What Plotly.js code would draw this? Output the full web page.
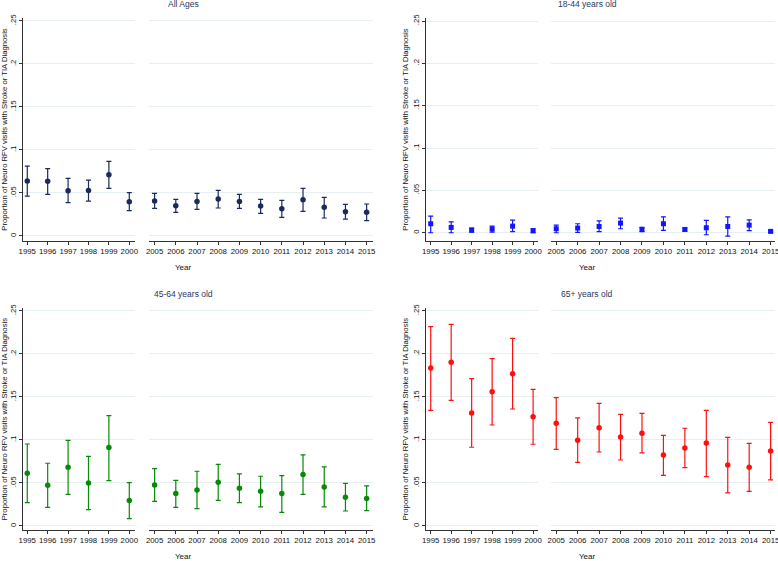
<!DOCTYPE html>
<html>
<head>
<meta charset="utf-8">
<script src="https://cdn.plot.ly/plotly-3.0.1.min.js"></script>
<style>
  html, body { margin: 0; padding: 0; background: #fff; }
  #graph { width: 778px; height: 561px; }
</style>
</head>
<body>
<div id="graph"></div>
<script>
// Survey years (two blocks with a gap)
var years = [1995, 1996, 1997, 1998, 1999, 2000, 2005, 2006, 2007, 2008, 2009, 2010, 2011, 2012, 2013, 2014, 2015];

// All ages
var allEst = [0.0639, 0.0635, 0.0526, 0.0530, 0.0712, 0.0399, 0.0406, 0.0352, 0.0402, 0.0430, 0.0402, 0.0348, 0.0317, 0.0422, 0.0333, 0.0283, 0.0275];
var allLo  = [0.0464, 0.0484, 0.0387, 0.0406, 0.0553, 0.0294, 0.0321, 0.0275, 0.0310, 0.0325, 0.0321, 0.0263, 0.0217, 0.0286, 0.0209, 0.0197, 0.0178];
var allHi  = [0.0813, 0.0782, 0.0670, 0.0650, 0.0867, 0.0503, 0.0495, 0.0426, 0.0495, 0.0530, 0.0484, 0.0426, 0.0414, 0.0553, 0.0449, 0.0368, 0.0372];

// 18-44 years old
var youngEst = [0.0106, 0.0063, 0.0031, 0.0043, 0.0078, 0.0024, 0.0047, 0.0055, 0.0074, 0.0114, 0.0039, 0.0106, 0.0039, 0.0059, 0.0074, 0.0090, 0.0016];
var youngLo  = [0.0000, 0.0000, 0.0008, 0.0008, 0.0012, 0.0000, 0.0000, 0.0004, 0.0012, 0.0047, 0.0012, 0.0027, 0.0020, -0.0024, -0.0039, 0.0024, 0.0004];
var youngHi  = [0.0196, 0.0129, 0.0055, 0.0078, 0.0149, 0.0047, 0.0090, 0.0106, 0.0141, 0.0172, 0.0063, 0.0188, 0.0055, 0.0145, 0.0188, 0.0153, 0.0024];

// 45-64 years old
var midEst = [0.0612, 0.0473, 0.0682, 0.0500, 0.0911, 0.0295, 0.0477, 0.0376, 0.0419, 0.0508, 0.0438, 0.0403, 0.0376, 0.0597, 0.0453, 0.0333, 0.0318];
var midLo  = [0.0271, 0.0217, 0.0368, 0.0190, 0.0527, 0.0085, 0.0287, 0.0217, 0.0202, 0.0298, 0.0271, 0.0221, 0.0159, 0.0368, 0.0221, 0.0174, 0.0178];
var midHi  = [0.0953, 0.0729, 0.0996, 0.0810, 0.1283, 0.0504, 0.0667, 0.0531, 0.0636, 0.0717, 0.0605, 0.0578, 0.0585, 0.0826, 0.0686, 0.0496, 0.0465];

// 65+ years old
var oldEst = [0.1837, 0.1903, 0.1314, 0.1562, 0.1771, 0.1271, 0.1194, 0.0996, 0.1143, 0.1035, 0.1078, 0.0826, 0.0907, 0.0965, 0.0709, 0.0682, 0.0872];
var oldLo  = [0.1345, 0.1461, 0.0915, 0.1174, 0.1360, 0.0950, 0.0891, 0.0740, 0.0860, 0.0767, 0.0849, 0.0589, 0.0678, 0.0574, 0.0384, 0.0403, 0.0535];
var oldHi  = [0.2318, 0.2345, 0.1713, 0.1946, 0.2182, 0.1589, 0.1492, 0.1256, 0.1426, 0.1298, 0.1310, 0.1054, 0.1136, 0.1345, 0.1031, 0.0961, 0.1205];

var yTicks = [0, 0.05, 0.1, 0.15, 0.2, 0.25];
var yTickText = ['0', '.05', '.1', '.15', '.2', '.25'];

var FONT = 'Liberation Sans, Arial, sans-serif';
var W = 778, H = 561;
function px(v) { return v / W; }
function py(v) { return 1 - v / H; }

// Build the two traces (1995-2000 and 2005-2015) for one panel
function panelTraces(est, lo, hi, color, symbol, xa, xb, ya) {
    var out = [];
    [[0, 6, xa], [6, 17, xb]].forEach(function(seg) {
        var e = est.slice(seg[0], seg[1]);
        var l = lo.slice(seg[0], seg[1]);
        var h = hi.slice(seg[0], seg[1]);
        out.push({
            x: years.slice(seg[0], seg[1]),
            y: e,
            type: 'scatter',
            mode: 'markers',
            xaxis: seg[2],
            yaxis: ya,
            showlegend: false,
            cliponaxis: false,
            marker: { color: color, size: symbol === 'square' ? 5 : 5.5, symbol: symbol },
            error_y: {
                type: 'data',
                symmetric: false,
                array: h.map(function(v, i) { return v - e[i]; }),
                arrayminus: e.map(function(v, i) { return v - l[i]; }),
                color: color,
                thickness: 1.2,
                width: 2.5
            }
        });
    });
    return out;
}

var traces = []
    .concat(panelTraces(allEst, allLo, allHi, '#1b2a5c', 'circle', 'x', 'x2', 'y'))
    .concat(panelTraces(youngEst, youngLo, youngHi, '#1414ff', 'square', 'x3', 'x4', 'y2'))
    .concat(panelTraces(midEst, midLo, midHi, '#078a07', 'circle', 'x5', 'x6', 'y3'))
    .concat(panelTraces(oldEst, oldLo, oldHi, '#ff1010', 'circle', 'x7', 'x8', 'y4'));

function xAxis(domain, range, tickvals, anchor) {
    return {
        domain: domain,
        range: range,
        anchor: anchor,
        tickmode: 'array',
        tickvals: tickvals,
        ticktext: tickvals.map(String),
        ticks: 'outside',
        ticklen: 3,
        tickcolor: '#333',
        showline: true,
        linecolor: '#333',
        linewidth: 1,
        showgrid: false,
        zeroline: false,
        ticklabeloverflow: 'allow',
        tickfont: { family: FONT, size: 7.8, color: '#111' },
        fixedrange: true
    };
}

function yAxis(domain, range, anchor) {
    return {
        domain: domain,
        range: range,
        anchor: anchor,
        tickmode: 'array',
        tickvals: yTicks,
        ticktext: yTickText,
        tickangle: -90,
        ticks: 'outside',
        ticklen: 3,
        tickcolor: '#333',
        showline: true,
        linecolor: '#333',
        linewidth: 1,
        showgrid: true,
        gridcolor: '#e6eff1',
        gridwidth: 1,
        zeroline: false,
        tickfont: { family: FONT, size: 7.8, color: '#111' },
        title: {
            text: 'Proportion of Neuro RFV visits with Stroke or TIA Diagnosis',
            font: { family: FONT, size: 7.7, color: '#111' },
            standoff: 2
        },
        fixedrange: true
    };
}

var yr1 = years.slice(0, 6), yr2 = years.slice(6);
var topY = [py(240.7), py(18.3)];
var botY = [py(530), py(308.3)];

function note(text, x, y, size, color) {
    return {
        text: text, xref: 'paper', yref: 'paper', x: px(x), y: py(y),
        xanchor: 'center', yanchor: 'middle', showarrow: false,
        font: { family: FONT, size: size, color: color }
    };
}

var layout = {
    width: W,
    height: H,
    margin: { l: 0, r: 0, t: 0, b: 0 },
    paper_bgcolor: '#ffffff',
    plot_bgcolor: '#ffffff',
    showlegend: false,
    xaxis:  xAxis([px(23), px(135)], [1994.79, 2000.28], yr1, 'y'),
    xaxis2: xAxis([px(149.3), px(373)], [2004.75, 2015.3], yr2, 'y'),
    xaxis3: xAxis([px(426), px(538)], [1994.77, 2000.24], yr1, 'y2'),
    xaxis4: xAxis([px(551.3), px(774.7)], [2004.77, 2015.19], yr2, 'y2'),
    xaxis5: xAxis([px(23), px(135)], [1994.79, 2000.28], yr1, 'y3'),
    xaxis6: xAxis([px(149.3), px(373)], [2004.75, 2015.3], yr2, 'y3'),
    xaxis7: xAxis([px(426), px(538)], [1994.77, 2000.24], yr1, 'y4'),
    xaxis8: xAxis([px(551.3), px(774.7)], [2004.77, 2015.19], yr2, 'y4'),
    yaxis:  yAxis(topY, [-0.0055, 0.2531], 'x'),
    yaxis2: yAxis(topY, [-0.0094, 0.2532], 'x3'),
    yaxis3: yAxis(botY, [-0.0047, 0.2531], 'x5'),
    yaxis4: yAxis(botY, [-0.0047, 0.2531], 'x7'),
    annotations: [
        note('All Ages', 183, 4, 8.5, '#1e3764'),
        note('18-44 years old', 587, 4, 8.5, '#1e3764'),
        note('45-64 years old', 183, 293.5, 8.5, '#1e3764'),
        note('65+ years old', 587, 293.5, 8.5, '#1e3764'),
        note('Year', 183, 267.5, 8, '#111'),
        note('Year', 587, 267.5, 8, '#111'),
        note('Year', 183, 556.5, 8, '#111'),
        note('Year', 587, 556.5, 8, '#111')
    ]
};

Plotly.newPlot('graph', traces, layout, { staticPlot: true });
</script>
</body>
</html>
